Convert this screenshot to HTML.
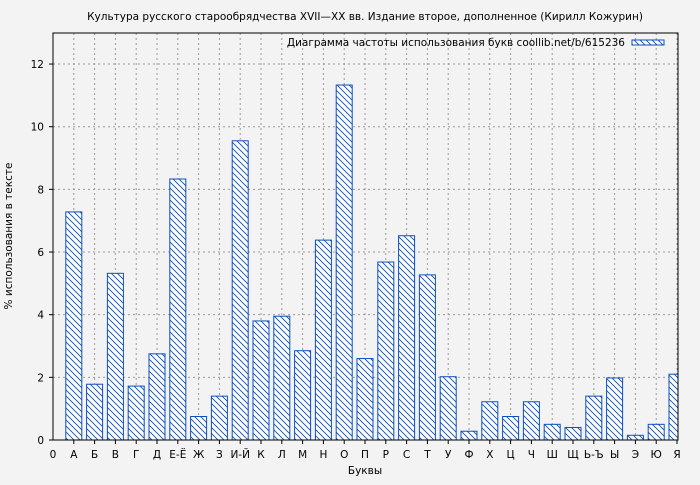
<!DOCTYPE html>
<html><head><meta charset="utf-8"><style>
body{margin:0;background:#f3f3f3;}
text{font-family:"DejaVu Sans","Liberation Sans",sans-serif;fill:#000;}
</style></head><body>
<svg width="700" height="480" xmlns="http://www.w3.org/2000/svg">
<defs>
<pattern id="h" patternUnits="userSpaceOnUse" width="6" height="6">
<rect width="6" height="6" fill="#fff"/>
<path d="M-1,-1 L7,7 M-1,5 L1,7 M5,-1 L7,1" stroke="#0a4fc0" stroke-width="0.9"/>
</pattern>
<clipPath id="c"><rect x="53" y="33" width="625" height="407"/></clipPath>
</defs>
<rect width="700" height="480" fill="#f3f3f3"/>
<text x="365" y="20" font-size="10.5" text-anchor="middle">Культура русского старообрядчества XVII—XX вв. Издание второе, дополненное (Кирилл Кожурин)</text>
<g id="grid" stroke="#999" stroke-dasharray="2,3" stroke-width="1"></g>
<g id="bars" clip-path="url(#c)"></g>
<rect x="53" y="33" width="625" height="407" fill="none" stroke="#000" stroke-width="1"/>
<g id="ax"></g>
<text x="625" y="46" font-size="10.5" text-anchor="end">Диаграмма частоты использования букв coollib.net/b/615236</text>
<rect x="632" y="40" width="32" height="5" fill="url(#h)" stroke="#0a4fc0"/>
<text x="365" y="474" font-size="10.5" text-anchor="middle">Буквы</text>
<text x="12" y="236" font-size="10.5" text-anchor="middle" transform="rotate(-90 12 236)">% использования в тексте</text>
</svg>
<script>
const L=["А","Б","В","Г","Д","Е-Ё","Ж","З","И-Й","К","Л","М","Н","О","П","Р","С","Т","У","Ф","Х","Ц","Ч","Ш","Щ","Ь-Ъ","Ы","Э","Ю","Я"];
const V=[7.28,1.78,5.32,1.72,2.75,8.33,0.75,1.4,9.55,3.8,3.95,2.85,6.38,11.33,2.6,5.68,6.52,5.27,2.02,0.28,1.22,0.75,1.22,0.5,0.4,1.4,1.98,0.15,0.5,2.1];
const ns="http://www.w3.org/2000/svg";
function el(p,t,a,tx){const e=document.createElementNS(ns,t);for(const k in a)e.setAttribute(k,a[k]);if(tx!==undefined)e.textContent=tx;document.getElementById(p).appendChild(e);}
const X=i=>53+i*20.8, Y=v=>440-v*31.33;
for(let i=1;i<=30;i++){el("grid","line",{x1:X(i),x2:X(i),y1:33,y2:440});}
for(let v=2;v<=12;v+=2){el("grid","line",{x1:53,x2:678,y1:Y(v),y2:Y(v)});}
V.forEach((v,k)=>{const i=k+1;el("bars","rect",{x:X(i)-8,y:Y(v),width:16,height:440-Y(v),fill:"url(#h)",stroke:"#0a4fc0","stroke-width":1});});
el("ax","text",{x:53,y:458,"font-size":10.5,"text-anchor":"middle"},"0");
L.forEach((l,k)=>{const i=k+1;el("ax","line",{x1:X(i),x2:X(i),y1:440,y2:444,stroke:"#000"});el("ax","text",{x:X(i),y:458,"font-size":10.5,"text-anchor":"middle"},l);});
for(let v=0;v<=12;v+=2){el("ax","line",{x1:49,x2:53,y1:Y(v),y2:Y(v),stroke:"#000"});el("ax","text",{x:44,y:Y(v)+4,"font-size":10.5,"text-anchor":"end"},String(v));}
</script>
</body></html>
